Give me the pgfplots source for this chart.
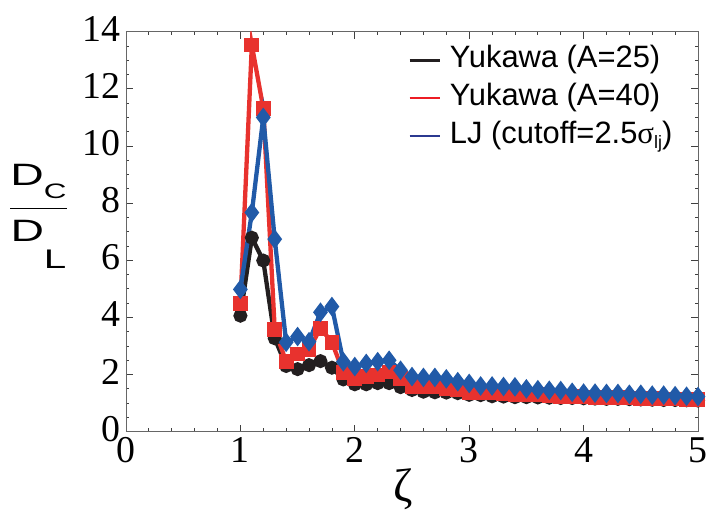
\documentclass[border=0pt]{standalone}
\usepackage{fontspec}
\setmainfont{Liberation Serif}
\setsansfont{Liberation Sans}
\usepackage{graphicx}
\usepackage{pgfplots}
\pgfplotsset{compat=1.18}

\definecolor{cblack}{RGB}{35,31,32}
\definecolor{cred}{RGB}{232,50,46}
\definecolor{cblue}{RGB}{33,90,168}
\definecolor{lred}{RGB}{237,28,36}
\definecolor{lblue}{RGB}{43,57,144}

\pgfplotstableread{
x y
1.0 4.06
1.1 6.79
1.2 5.99
1.3 3.27
1.4 2.30
1.5 2.19
1.6 2.33
1.7 2.47
1.8 2.24
1.9 1.83
2.0 1.66
2.1 1.66
2.2 1.70
2.3 1.70
2.4 1.56
2.5 1.46
2.6 1.40
2.7 1.38
2.8 1.37
2.9 1.35
3.0 1.29
3.1 1.28
3.2 1.24
3.3 1.23
3.4 1.21
3.5 1.21
3.6 1.20
3.7 1.19
3.8 1.18
3.9 1.18
4.0 1.17
4.1 1.16
4.2 1.15
4.3 1.15
4.4 1.14
4.5 1.13
4.6 1.12
4.7 1.11
4.8 1.11
4.9 1.10
5.0 1.09
}\yukA

\pgfplotstableread{
x y
1.0 4.49
1.1 13.53
1.2 11.32
1.3 3.58
1.4 2.45
1.5 2.72
1.6 2.88
1.7 3.62
1.8 3.13
1.9 2.08
2.0 1.87
2.1 1.93
2.2 1.98
2.3 2.09
2.4 1.85
2.5 1.58
2.6 1.58
2.7 1.58
2.8 1.52
2.9 1.46
3.0 1.38
3.1 1.37
3.2 1.35
3.3 1.34
3.4 1.31
3.5 1.31
3.6 1.29
3.7 1.26
3.8 1.24
3.9 1.23
4.0 1.21
4.1 1.20
4.2 1.20
4.3 1.19
4.4 1.18
4.5 1.16
4.6 1.15
4.7 1.14
4.8 1.14
4.9 1.13
5.0 1.13
}\yukB

\pgfplotstableread{
x y
1.0 4.98
1.1 7.67
1.2 11.00
1.3 6.74
1.4 3.13
1.5 3.33
1.6 3.15
1.7 4.18
1.8 4.38
1.9 2.45
2.0 2.28
2.1 2.39
2.2 2.45
2.3 2.50
2.4 2.15
2.5 1.93
2.6 1.90
2.7 1.90
2.8 1.85
2.9 1.75
3.0 1.69
3.1 1.60
3.2 1.60
3.3 1.58
3.4 1.57
3.5 1.50
3.6 1.47
3.7 1.45
3.8 1.44
3.9 1.38
4.0 1.35
4.1 1.35
4.2 1.34
4.3 1.34
4.4 1.31
4.5 1.31
4.6 1.28
4.7 1.28
4.8 1.26
4.9 1.24
5.0 1.23
}\lj

\begin{document}
\begin{tikzpicture}
\useasboundingbox (-126bp,-81.3bp) rectangle (581bp,431.7bp);
\begin{axis}[
  scale only axis, width=572bp, height=400bp,
  xmin=0, xmax=5, ymin=0, ymax=14,
  xtick={0,1,2,3,4,5}, ytick={0,2,...,14},
  minor x tick num=4, minor y tick num=3,
  tick align=inside, major tick length=7bp, minor tick length=3.5bp,
  axis line style={black!60, line width=0.9bp},
  tick style={black!75, line width=0.8bp},
  /pgf/number format/assume math mode=true,
  ticklabel style={font=\fontsize{38}{38}\selectfont},
  yticklabel style={inner xsep=5bp, yshift=3bp},
  xticklabel style={yshift=-2bp},
  xlabel={\fontsize{47}{47}\selectfont ζ},
  every axis x label/.style={at={(axis description cs:0.484,-0.143)}, anchor=center},
  ylabel={\scalebox{1.5}[1]{\sffamily\fontsize{31}{31}\selectfont\setlength{\arrayrulewidth}{1.1bp}%
    \begin{tabular}{@{}c@{}}D\raisebox{-13bp}{\fontsize{21}{21}\selectfont C}\\[12.4bp]\hline
    \rule{0pt}{33bp}D\raisebox{-27bp}{\fontsize{27}{27}\selectfont L}\end{tabular}}},
  every axis y label/.style={at={(axis description cs:-0.153,0.538)}, anchor=center},
  legend style={draw=none, fill=none, at={(axis description cs:0.493,0.834)}, anchor=west,
    font=\sffamily\fontsize{31}{31}\selectfont, row sep=9bp, inner sep=0pt,
    nodes={inner sep=0pt, text height=22bp, text depth=7bp}},
  legend cell align=left,
  legend image code/.code={\draw[#1] (0bp,0bp) -- (30bp,0bp); \path (39bp,0bp);},
]
\addplot[cblack, line width=4.3bp, mark=*, mark size=4.8bp, forget plot] table {\yukA};
\addplot[cred, line width=4.3bp, mark=square*, mark size=5.2bp, forget plot] table {\yukB};
\addplot[cblue, line width=4.3bp, mark=diamond*, mark size=6.3bp, forget plot] table {\lj};
\addlegendimage{cblack, line width=2.8bp}
\addlegendentry{Yukawa (A=25)}
\addlegendimage{lred, line width=2.8bp}
\addlegendentry{Yukawa (A=40)}
\addlegendimage{lblue, line width=2.8bp}
\addlegendentry{LJ (cutoff=2.5{\rmfamily σ}\raisebox{-5bp}{\fontsize{18}{18}\selectfont lj})}
\end{axis}
\end{tikzpicture}
\end{document}
